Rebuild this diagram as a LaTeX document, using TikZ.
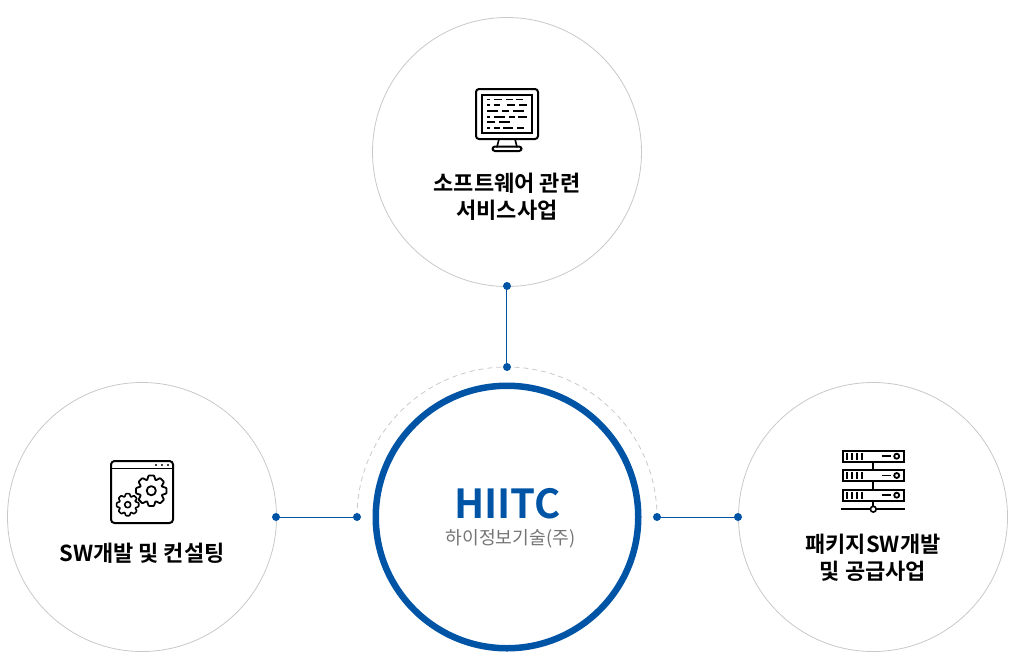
\documentclass[tikz,border=0pt]{standalone}
\usepackage{fontspec}
\setmainfont{Noto Sans CJK KR}[BoldFont={Noto Sans CJK KR Bold}]
\definecolor{hblue}{HTML}{0054A6}
\definecolor{ring}{HTML}{C8C8C8}
\definecolor{subgray}{HTML}{747474}
\tikzset{
  outer/.style={circle,draw=ring,line width=0.8pt,minimum size=269pt,inner sep=0pt},
  hub/.style={circle,draw=hblue,line width=6.5pt,minimum size=262.5pt,inner sep=0pt,outer sep=0pt},
  dotn/.style={circle,fill=hblue,minimum size=8pt,inner sep=0pt},
  link/.style={draw=hblue,line width=1pt},
  lab/.style={align=center,font=\fontsize{22}{27}\selectfont\bfseries,text=black},
  ico/.style={draw=black,line width=2pt,line cap=round,line join=round},
  icot/.style={draw=black,line width=2pt}
}
\newcommand{\gearpath}[4]{% cx cy outer style
  \draw[#4,rounded corners=0.7pt] ({#1+0.72*#3*cos(-22.5)},{#2+0.72*#3*sin(-22.5)})
  \foreach \k in {0,...,7}{
    -- ({#1+#3*cos(45*\k-10)},{#2+#3*sin(45*\k-10)})
    -- ({#1+#3*cos(45*\k+10)},{#2+#3*sin(45*\k+10)})
    -- ({#1+0.72*#3*cos(45*\k+22.5)},{#2+0.72*#3*sin(45*\k+22.5)})
  } -- cycle;
}
\begin{document}
\begin{tikzpicture}[x=1pt,y=-1pt]
\useasboundingbox (0,0) rectangle (1015,670);
\node[outer] (top) at (507,152) {};
\node[outer] (left) at (142,517) {};
\node[outer] (right) at (873,517) {};
\node[hub] (hub) at (507,517) {};
\draw[ring,line width=0.8pt,dash pattern=on 5pt off 4pt] (357,517) arc[start angle=180,end angle=0,radius=150pt];
\node[dotn] (d1) at (507,286) {};
\node[dotn] (d2) at (507,367) {};
\node[dotn] (d3) at (276,517) {};
\node[dotn] (d4) at (357,517) {};
\node[dotn] (d5) at (657,517) {};
\node[dotn] (d6) at (738,517) {};
\draw[link] ([xshift=-0.5pt]d1.center) -- ([xshift=-0.5pt]d2.center);
\draw[link] ([yshift=-0.5pt]d3.center) -- ([yshift=-0.5pt]d4.center);
\draw[link] ([yshift=-0.5pt]d5.center) -- ([yshift=-0.5pt]d6.center);
\node[font=\fontsize{40}{40}\selectfont\bfseries,text=hblue] (name) at (507.5,504) {HIITC};
\node[font=\fontsize{18.2}{22}\selectfont,text=subgray] (sub) at (510.5,538.5) {하이정보기술(주)};
\node[lab] (tl) at (507,197) {소프트웨어 관련\\서비스사업};
\node[lab] (ll) at (142,553.5) {SW개발 및 컨설팅};
\node[lab] (rl) at (873,558) {패키지SW개발\\및 공급사업};
% monitor icon
\draw[ico,rounded corners=3pt] (476,89) rectangle (538,139);
\draw[icot] (482,95) rectangle (532,133);
\draw[ico,line width=1.6pt] (499,139) -- (497,147) (515,139) -- (517,147);
\draw[ico,rounded corners=2.5pt] (492.5,146.5) rectangle (521.5,151);
\foreach \xa/\xb/\yy in {
 487/490/99.5, 494/501.7/99.5, 505.7/513.3/99.5, 516/522.7/99.5,
 487/489.5/105, 494/500/105, 507/515/105, 519/527/105,
 487/498/110.7, 501.7/509.3/110.7, 513/524/110.7,
 487/490/116.7, 494/505/116.7, 509/515/116.7, 518/527/116.7,
 487/495/122.3, 499/510/122.3,
 487/489.5/128.3, 494/500/128.3, 503/513/128.3, 517/524/128.3}
 \draw[black,line width=1.8pt] (\xa,\yy) -- (\xb,\yy);
% gears window icon
\draw[ico,rounded corners=3.5pt] (111,461) rectangle (173,523);
\draw[ico,line width=1.8pt] (111,468.5) -- (173,468.5);
\fill (156,465) circle (1.1pt) (162,465) circle (1.1pt) (168,465) circle (1.1pt);
\gearpath{151.3}{490.7}{15.5}{ico,line width=1.8pt}
\draw[ico,line width=1.8pt] (151.3,490.7) circle (4.6pt);
\gearpath{127.7}{504.7}{11.2}{ico,line width=1.6pt}
\draw[ico,line width=1.6pt] (127.7,504.7) circle (3pt);
% server icon
\foreach \yy in {450.7,470,489.7}{
  \draw[black,line width=2pt] (842.5,\yy) rectangle (903.5,\yy+11);
  \foreach \xx in {846.7,851.7,856.7,861.7} \draw[black,line width=1.9pt] (\xx,\yy+2.2) -- (\xx,\yy+8.8);
  \draw[black,line width=1.7pt] (882.3,\yy+5.5) -- (890.7,\yy+5.5);
  \draw[black,line width=1.8pt] (896.7,\yy+5.5) circle (2.5pt);
}
\draw[black,line width=1.8pt] (873.3,462) -- (873.3,470) (873.3,481) -- (873.3,489.7) (873.3,500.7) -- (873.3,506);
\draw[black,line width=1.8pt] (841,509.2) -- (870,509.2) (876.6,509.2) -- (905,509.2);
\draw[black,line width=1.6pt] (873.3,509.2) circle (2.9pt);
\end{tikzpicture}
\end{document}
